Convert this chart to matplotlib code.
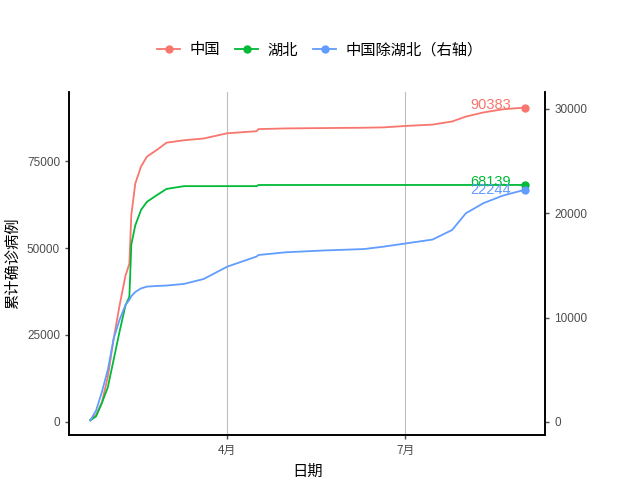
import matplotlib
matplotlib.use("Agg")
import matplotlib.pyplot as plt
import pandas as pd

plt.rcParams['font.family'] = ['Noto Sans CJK SC', 'DejaVu Sans']

# 数据（从图中读取的关键日期）
dates = ["2020-01-22", "2020-01-25", "2020-01-28", "2020-01-31", "2020-02-03",
         "2020-02-06", "2020-02-09", "2020-02-11", "2020-02-12", "2020-02-14",
         "2020-02-17", "2020-02-20", "2020-02-25", "2020-03-01", "2020-03-10",
         "2020-03-20", "2020-04-01", "2020-04-16", "2020-04-17", "2020-05-01",
         "2020-05-20", "2020-06-10", "2020-06-20", "2020-07-01", "2020-07-15",
         "2020-07-25", "2020-08-01", "2020-08-10", "2020-08-20", "2020-08-31"]
china = [571, 2000, 5700, 13000, 24000, 33500, 42000, 45500, 59500, 68500,
         73500, 76300, 78200, 80300, 81000, 81500, 83000, 83600, 84200, 84400,
         84500, 84600, 84700, 85100, 85500, 86400, 87800, 89000, 89900, 90383]
hubei = [444, 1600, 5500, 10000, 18000, 26000, 33500, 36000, 51000, 56500,
         61000, 63300, 65200, 67000, 67800, 67800, 67802, 67803, 68128, 68128,
         68134, 68135, 68135, 68135, 68135, 68139, 68139, 68139, 68139, 68139]
# 中国除湖北，右轴
others = [131, 1100, 2900, 5000, 8000, 9800, 11200, 11700, 12050, 12450,
          12800, 12970, 13030, 13070, 13230, 13700, 14880, 15850, 16000, 16260,
          16430, 16570, 16800, 17100, 17480, 18400, 20000, 20970, 21700, 22244]

series = ["中国", "湖北", "中国除湖北（右轴）"]
colors = ["#F8766D", "#00BA38", "#619CFF"]
scale = 3

x = pd.to_datetime(dates)

fig = plt.figure(figsize=(6.4, 4.8), dpi=100)
ax = fig.add_axes([0.108, 0.094, 0.744, 0.714])

values = [china, hubei, [v * scale for v in others]]
labels_end = [china[-1], hubei[-1], others[-1]]
offsets = [2, 2, 0]
for name, col, vals, lab, off in zip(series, colors, values, labels_end, offsets):
    ax.plot(x, vals, color=col, lw=1.3, label=name,
            marker='o', markevery=[len(vals) - 1], ms=5)
    ax.annotate(str(lab), (x[-1], vals[-1]), xytext=(-10, off),
                textcoords='offset points', ha='right', va='center',
                color=col, fontsize=10.5, family='Liberation Sans')

ax.set_xlim(pd.Timestamp("2020-04-01") - pd.Timedelta(days=80.8),
            pd.Timestamp("2020-04-01") + pd.Timedelta(days=162.6))
ax.set_ylim(-3736, 94828)
ax.set_yticks([0, 25000, 50000, 75000])
ax.set_xticks(pd.to_datetime(["2020-04-01", "2020-07-01"]))
ax.set_xticklabels(["4月", "7月"])
ax.grid(axis='x', color='#BEBEBE', lw=0.8)
ax.set_axisbelow(True)

ax2 = ax.twinx()
lo, hi = ax.get_ylim()
ax2.set_ylim(lo / scale, hi / scale)
ax2.set_yticks([0, 10000, 20000, 30000])

for a in (ax, ax2):
    a.spines['top'].set_visible(False)
    for s in ('left', 'right', 'bottom'):
        a.spines[s].set_linewidth(1.2)
    a.tick_params(colors='#4D4D4D', labelsize=8.5, length=3, width=1)
    for t in a.get_yticklabels():
        t.set_family('Liberation Sans')

ax.set_xlabel("日期", fontsize=11)
ax.set_ylabel("累计确诊病例", fontsize=11)

fig.legend(loc='center', bbox_to_anchor=(0.5, 0.896), ncol=3, frameon=False,
           fontsize=11, handlelength=1.5, columnspacing=1.0, handletextpad=0.6)

fig.savefig("out.png", dpi=100)
